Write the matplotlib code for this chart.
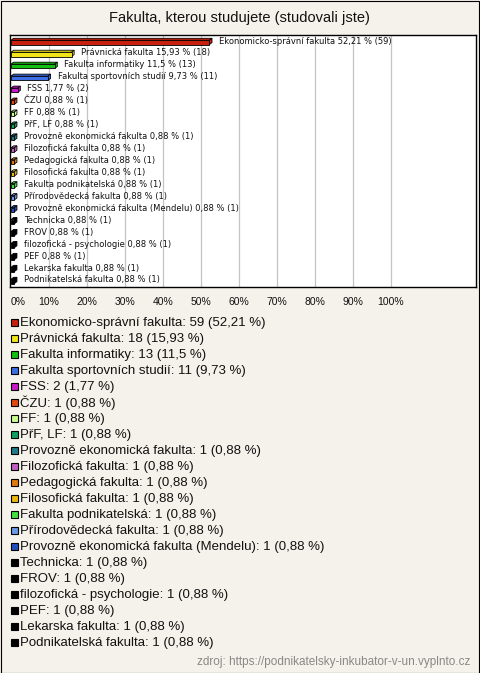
import matplotlib
matplotlib.use("Agg")
import matplotlib.pyplot as plt
from matplotlib.patches import Polygon, Rectangle

names = ["Ekonomicko-správní fakulta", "Právnická fakulta", "Fakulta informatiky",
         "Fakulta sportovních studií", "FSS", "ČZU", "FF", "PřF, LF",
         "Provozně ekonomická fakulta", "Filozofická fakulta", "Pedagogická fakulta",
         "Filosofická fakulta", "Fakulta podnikatelská", "Přírodovědecká fakulta",
         "Provozně ekonomická fakulta (Mendelu)", "Technicka", "FROV",
         "filozofická - psychologie", "PEF", "Lekarska fakulta", "Podnikatelská fakulta"]
counts = [59, 18, 13, 11, 2] + [1] * 16
percents = [52.21, 15.93, 11.5, 9.73, 1.77] + [0.88] * 16
pct_text = ["52,21", "15,93", "11,5", "9,73", "1,77"] + ["0,88"] * 16
colors = ["#c8200e", "#f2e41a", "#12c012", "#3c6ee6", "#c818c8", "#e04a10", "#c8ff90",
          "#10a060", "#207a8a", "#c060c0", "#e07a10", "#e8b810", "#40e040", "#6a9ae6",
          "#2050c0"] + ["#000000"] * 6
xticks = [0, 10, 20, 30, 40, 50, 60, 70, 80, 90, 100]
title = "Fakulta, kterou studujete (studovali jste)"
source = "zdroj: https://podnikatelsky-inkubator-v-un.vyplnto.cz"

W, H = 480, 673
BG = "#f4f2ea"
FONT = "Liberation Sans"
fig = plt.figure(figsize=(W / 100, H / 100), dpi=100, facecolor=BG)

def fx(px):
    return px / W

def fy(py):
    return 1 - py / H

# outer border
fig.patches.append(Rectangle((0.5 / W, 0.5 / H), 1 - 1.5 / W, 1 - 1.5 / H, transform=fig.transFigure,
                             fill=False, edgecolor="black", linewidth=0.8))

fig.text(fx(239), fy(18), title, ha="center", va="center", fontsize=10.5, family=FONT, color="#111111")

ax_l, ax_r, ax_t, ax_b = 10, 476, 35, 287
ax = fig.add_axes([fx(ax_l), fy(ax_b), fx(ax_r - ax_l), (ax_b - ax_t) / H])
ax.set_facecolor("white")
ppx = 3.8  # px per percent
ax.set_xlim(-1 / ppx, (ax_r - ax_l - 1) / ppx)
row_px = 11.95
ax.set_ylim((ax_b - 41) / row_px, -(41 - ax_t) / row_px)
for s in ax.spines.values():
    s.set_linewidth(1.0)
    s.set_color("black")

for g in xticks[1:]:
    ax.axvline(g, color="#c4c4c4", linewidth=0.9, zorder=0)

n = len(names)
ys = list(range(n))
bh = 0.36
yc_off = 0.12
dx = 2.6 / ppx
dy = 2.0 / row_px
ax.barh([y + yc_off for y in ys], percents, height=bh, color=colors, edgecolor="black",
        linewidth=0.6, zorder=3)
for y, v, c, nm, cnt, pt in zip(ys, percents, colors, names, counts, pct_text):
    top = y + yc_off - bh / 2
    bot = y + yc_off + bh / 2
    ax.add_patch(Polygon([(0, top), (v, top), (v + dx, top - dy), (dx, top - dy)],
                         closed=True, facecolor=c, edgecolor="black", linewidth=0.6, zorder=2))
    ax.add_patch(Polygon([(v, top), (v + dx, top - dy), (v + dx, bot - dy), (v, bot)],
                         closed=True, facecolor=c, edgecolor="black", linewidth=0.6, zorder=2))
    ax.text(v + dx + 7 / ppx, y, f"{nm} {pt} % ({cnt})", ha="left", va="center",
            fontsize=6.0, family="DejaVu Sans", color="#111111", zorder=4)

ax.set_xticks(xticks)
ax.set_xticklabels([f"{t}%" for t in xticks], fontsize=7.5, family=FONT, color="#111111")
ax.tick_params(axis="x", length=0, pad=7)
ax.set_yticks([])
lbls = ax.get_xticklabels()
lbls[0].set_horizontalalignment("left")

# legend
ly0, lstep = 321, 16
for i, (nm, cnt, pt, c) in enumerate(zip(names, counts, pct_text, colors)):
    yy = ly0 + i * lstep
    fig.patches.append(Rectangle((fx(10.5), fy(yy + 5)), 7 / W, 7 / H, transform=fig.transFigure,
                                 facecolor=c, edgecolor="black", linewidth=0.8))
    fig.text(fx(20.5), fy(yy + 0.5), f"{nm}: {cnt} ({pt} %)", ha="left", va="center_baseline",
             fontsize=9.5, family=FONT, color="#111111")

fig.text(fx(470), fy(662), source, ha="right", va="center", fontsize=8.5, family=FONT, color="#888888")

fig.savefig("out.png", dpi=100, facecolor=BG)
